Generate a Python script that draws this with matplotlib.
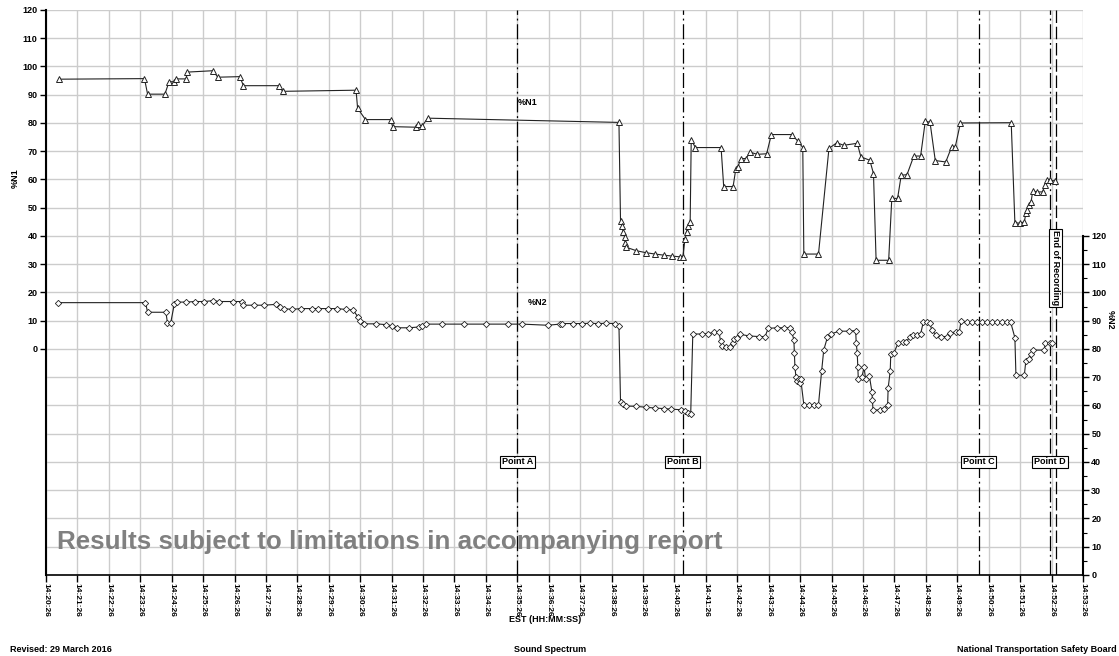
import matplotlib
matplotlib.use("Agg")
import matplotlib.pyplot as plt
from matplotlib.ticker import FixedLocator, FuncFormatter

plt.rcParams['font.family'] = ['Liberation Sans', 'DejaVu Sans']
plt.rcParams['font.weight'] = 'bold'

# %N1 (left axis), clock time EST
n1_time = ['14:20:51', '14:23:34', '14:23:40', '14:24:13', '14:24:21', '14:24:31', '14:24:34',
           '14:24:54', '14:24:55', '14:25:45', '14:25:54', '14:26:36', '14:26:43', '14:27:50',
           '14:27:58', '14:30:18', '14:30:21', '14:30:36', '14:31:24', '14:31:28', '14:32:12',
           '14:32:16', '14:32:24', '14:32:35', '14:38:40', '14:38:43', '14:38:46', '14:38:48',
           '14:38:51', '14:38:52', '14:38:54', '14:39:13', '14:39:31', '14:39:49', '14:40:06',
           '14:40:21', '14:40:37', '14:40:42', '14:40:46', '14:40:49', '14:40:52', '14:40:56',
           '14:40:58', '14:41:06', '14:41:55', '14:42:00', '14:42:18', '14:42:23', '14:42:27',
           '14:42:33', '14:42:43', '14:42:50', '14:43:04', '14:43:22', '14:43:31', '14:44:10',
           '14:44:22', '14:44:31', '14:44:33', '14:45:01', '14:45:21', '14:45:36', '14:45:49',
           '14:46:15', '14:46:22', '14:46:39', '14:46:46', '14:46:51', '14:47:15', '14:47:21',
           '14:47:32', '14:47:39', '14:47:50', '14:48:03', '14:48:16', '14:48:25', '14:48:34',
           '14:48:44', '14:49:04', '14:49:15', '14:49:22', '14:49:32', '14:51:09', '14:51:16',
           '14:51:26', '14:51:34', '14:51:37', '14:51:40', '14:51:43', '14:51:47', '14:51:50',
           '14:51:58', '14:52:09', '14:52:13', '14:52:18', '14:52:24', '14:52:33']
n1_val = [95.5, 95.7, 90.2, 90.2, 94.6, 94.6, 95.6,
          95.6, 98.0, 98.5, 96.2, 96.4, 93.2, 93.2,
          91.2, 91.6, 85.2, 81.2, 81.2, 78.7, 78.5,
          79.5, 78.9, 81.7, 80.2, 45.3, 43.6, 41.5,
          39.5, 37.4, 36.0, 34.8, 34.1, 33.6, 33.2,
          32.9, 32.6, 32.5, 38.8, 41.5, 43.5, 45.1,
          74.0, 71.3, 71.3, 57.5, 57.5, 63.6, 64.5,
          67.4, 67.4, 69.7, 68.9, 69.1, 75.9, 75.9,
          73.5, 71.3, 33.6, 33.6, 71.0, 73.0, 72.1,
          72.8, 68.0, 66.8, 62.1, 31.4, 31.4, 53.3,
          53.3, 61.5, 61.7, 68.3, 68.3, 80.7, 80.2,
          66.7, 66.2, 71.4, 71.4, 80.0, 80.1, 44.7,
          44.5, 45.0, 48.0, 49.2, 51.0, 52.1, 55.9,
          55.6, 55.6, 58.1, 59.8, 59.8, 59.4]

# %N2 (right axis)
n2_time = ['14:20:49', '14:23:36', '14:23:40', '14:24:15', '14:24:18', '14:24:24', '14:24:31',
           '14:24:36', '14:24:54', '14:25:11', '14:25:28', '14:25:45', '14:25:57', '14:26:24',
           '14:26:40', '14:26:43', '14:27:04', '14:27:23', '14:27:46', '14:27:53', '14:28:01',
           '14:28:15', '14:28:33', '14:28:54', '14:29:05', '14:29:24', '14:29:41', '14:29:58',
           '14:30:13', '14:30:21', '14:30:26', '14:30:33', '14:30:57', '14:31:16', '14:31:27',
           '14:31:36', '14:31:59', '14:32:19', '14:32:24', '14:32:32', '14:33:03', '14:33:44',
           '14:34:27', '14:35:09', '14:35:35', '14:36:24', '14:36:47', '14:36:52', '14:37:13',
           '14:37:30', '14:37:45', '14:38:00', '14:38:16', '14:38:32', '14:38:40', '14:38:43',
           '14:38:48', '14:38:53', '14:39:12', '14:39:31', '14:39:48', '14:40:06', '14:40:20',
           '14:40:38', '14:40:46', '14:40:52', '14:40:57', '14:41:01', '14:41:18', '14:41:30',
           '14:41:41', '14:41:51', '14:41:54', '14:41:57', '14:42:04', '14:42:12', '14:42:17',
           '14:42:20', '14:42:25', '14:42:31', '14:42:49', '14:43:07', '14:43:19', '14:43:25',
           '14:43:42', '14:43:55', '14:44:07', '14:44:10', '14:44:14', '14:44:15', '14:44:16',
           '14:44:18', '14:44:20', '14:44:23', '14:44:25', '14:44:27', '14:44:33', '14:44:43',
           '14:44:53', '14:45:01', '14:45:07', '14:45:11', '14:45:18', '14:45:25', '14:45:40',
           '14:46:00', '14:46:12', '14:46:13', '14:46:15', '14:46:16', '14:46:17', '14:46:24',
           '14:46:28', '14:46:31', '14:46:38', '14:46:43', '14:46:44', '14:46:45', '14:46:58',
           '14:47:06', '14:47:13', '14:47:14', '14:47:18', '14:47:19', '14:47:25', '14:47:33',
           '14:47:42', '14:47:49', '14:47:56', '14:48:02', '14:48:10', '14:48:16', '14:48:21',
           '14:48:28', '14:48:34', '14:48:37', '14:48:45', '14:48:54', '14:49:07', '14:49:13',
           '14:49:24', '14:49:30', '14:49:33', '14:49:44', '14:49:54', '14:50:03', '14:50:13',
           '14:50:22', '14:50:32', '14:50:41', '14:50:51', '14:51:00', '14:51:08', '14:51:16',
           '14:51:18', '14:51:34', '14:51:37', '14:51:43', '14:51:47', '14:51:50', '14:52:12',
           '14:52:14', '14:52:24', '14:52:27']
n2_val = [96.4, 96.4, 93.0, 93.0, 89.1, 89.1, 95.9,
          96.6, 96.6, 96.8, 96.8, 97.1, 96.8, 96.8,
          96.8, 95.5, 95.5, 95.5, 95.8, 94.8, 94.3,
          94.0, 94.3, 94.3, 94.3, 94.3, 94.3, 94.0,
          93.8, 91.4, 90.0, 88.9, 88.9, 88.6, 88.2,
          87.5, 87.5, 87.8, 88.3, 88.8, 88.8, 88.8,
          88.8, 88.8, 88.8, 88.4, 88.8, 89.0, 89.0,
          89.0, 89.1, 89.0, 89.1, 89.0, 88.2, 61.3,
          60.5, 59.8, 59.7, 59.4, 59.1, 58.9, 58.7,
          58.5, 58.1, 57.2, 56.9, 85.3, 85.3, 85.4,
          85.9, 85.9, 82.9, 81.2, 80.6, 80.6, 82.0,
          83.4, 83.9, 85.2, 84.6, 84.4, 84.4, 87.3,
          87.5, 87.5, 87.5, 86.1, 83.2, 78.5, 73.7,
          70.0, 68.8, 69.3, 68.0, 69.5, 60.3, 60.3,
          60.3, 60.3, 72.2, 79.6, 84.1, 85.3, 86.3,
          86.3, 86.5, 82.2, 78.5, 73.7, 69.5, 70.2,
          73.5, 69.4, 70.6, 64.9, 62.0, 58.4, 58.4,
          58.7, 60.2, 66.1, 72.3, 78.2, 78.7, 82.0,
          82.4, 82.6, 84.4, 85.1, 85.1, 85.3, 89.4,
          89.4, 89.3, 86.7, 85.1, 84.4, 84.4, 85.6,
          86.1, 86.1, 89.8, 89.4, 89.4, 89.4, 89.5,
          89.5, 89.4, 89.4, 89.4, 89.4, 89.4, 84.0,
          70.7, 70.7, 75.9, 76.3, 78.2, 79.6, 79.6,
          82.0, 82.0, 82.0]

# event markers
event_names = ['Point A', 'Point B', 'Point C', 'Point D']
event_time = ['14:35:26', '14:40:42', '14:50:07', '14:52:23']
end_time = '14:52:34'

t_start, t_end = '14:20:26', '14:53:26'


def secs(s):
    h, m, x = s.split(':')
    return int(h) * 3600 + int(m) * 60 + int(x)


def hms(v, pos=None):
    v = int(round(v))
    return '%d:%02d:%02d' % (v // 3600, (v % 3600) // 60, v % 60)


fig = plt.figure(figsize=(11.19, 6.56), dpi=100)
ax = fig.add_axes([0.0411, 0.1235, 0.9267, 0.8613])

x0, x1 = secs(t_start), secs(t_end)
ax.set_xlim(x0, x1)
ax.set_ylim(-80, 120)
ax.xaxis.set_major_locator(FixedLocator(list(range(x0, x1 + 1, 60))))
ax.xaxis.set_major_formatter(FuncFormatter(hms))
ax.yaxis.set_major_locator(FixedLocator(list(range(0, 121, 10))))
ax.yaxis.set_minor_locator(FixedLocator(list(range(-80, 0, 10))))
ax.grid(True, which='both', color='#cccccc', lw=1)
ax.set_axisbelow(True)
ax.tick_params(axis='x', labelsize=6, rotation=-90, length=5, width=1, pad=1)
ax.tick_params(axis='y', labelsize=6.5, length=4, width=1, pad=2)
ax.tick_params(axis='y', which='minor', length=0)
for lab in ax.get_xticklabels():
    lab.set_va('top')
    lab.set_ha('center')
for s in ['top', 'right']:
    ax.spines[s].set_visible(False)
ax.spines['left'].set_linewidth(1.5)
ax.spines['bottom'].set_linewidth(1.2)

ax.plot([secs(t) for t in n1_time], n1_val, color='#222222', lw=0.8,
        marker='^', ms=5, mfc='white', mec='#222222', mew=0.7, zorder=3)

# event lines
for name, t in zip(event_names, event_time):
    ax.axvline(secs(t), color='black', lw=0.9, ls=(0, (12, 3, 1.5, 3)), zorder=2)
    ax.text(secs(t), -40, name, fontsize=6.5, ha='center', va='center', zorder=5,
            bbox=dict(boxstyle='square,pad=0.2', fc='white', ec='black', lw=0.8))
ax.axvline(secs(end_time), color='black', lw=0.9, ls=(0, (10, 3)), zorder=2)
ax.text(secs(end_time), 28.7, 'End of Recording', fontsize=6.5, rotation=-90,
        ha='center', va='center', zorder=5,
        bbox=dict(boxstyle='square,pad=0.2', fc='white', ec='black', lw=0.8))

ax.text(secs('14:35:46'), 87.1, '%N1', fontsize=6.5, ha='center', va='center')
ax.text(secs('14:36:05'), 16.6, '%N2', fontsize=6.5, ha='center', va='center')

ax.text(secs('14:20:47'), -68.5, 'Results subject to limitations in accompanying report',
        fontsize=18.7, color='#808080', ha='left', va='center', zorder=4)

# right axis for %N2
ax2 = ax.twinx()
ax2.set_ylim(0, 200)
ax2.yaxis.set_major_locator(FixedLocator(list(range(0, 121, 10))))
ax2.yaxis.set_minor_locator(FixedLocator(list(range(5, 120, 10))))
ax2.tick_params(axis='y', labelsize=6.5, length=4, width=1, pad=2)
ax2.tick_params(axis='y', which='minor', length=3, width=0.8)
for s in ['top', 'left', 'bottom']:
    ax2.spines[s].set_visible(False)
ax2.spines['right'].set_bounds(0, 120)
ax2.spines['right'].set_linewidth(1.5)
ax2.plot([secs(t) for t in n2_time], n2_val, color='#222222', lw=0.8,
         marker='D', ms=3.2, mfc='white', mec='#222222', mew=0.6, zorder=3)

fig.text(15 / 1119, 1 - 178 / 656, '%N1', rotation=90, fontsize=6.5, ha='center', va='center')
fig.text(1110 / 1119, 1 - 320 / 656, '%N2', rotation=-90, fontsize=6.5, ha='center', va='center')
fig.text(545 / 1119, 1 - 620 / 656, 'EST (HH:MM:SS)', fontsize=6.5, ha='center', va='center')
fig.text(10 / 1119, 1 - 650 / 656, 'Revised: 29 March 2016', fontsize=6.5, ha='left', va='center')
fig.text(550 / 1119, 1 - 650 / 656, 'Sound Spectrum', fontsize=6.5, ha='center', va='center')
fig.text(1117 / 1119, 1 - 650 / 656, 'National Transportation Safety Board', fontsize=6.5,
         ha='right', va='center')

fig.savefig('out.png', dpi=100)
